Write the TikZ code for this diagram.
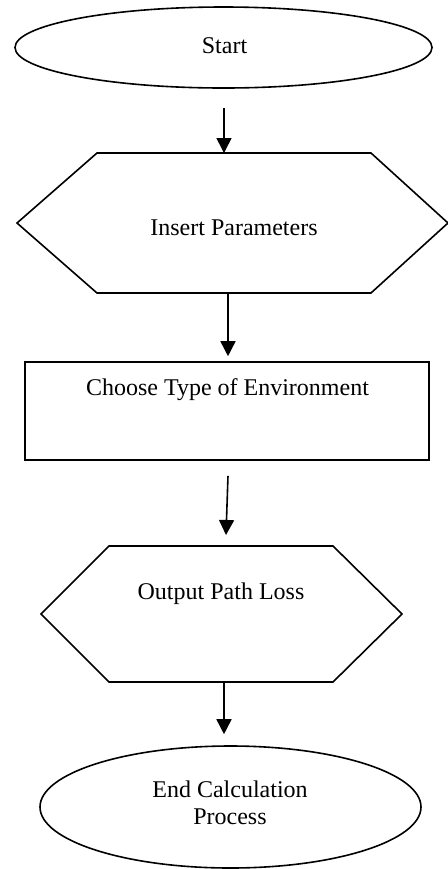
\documentclass[tikz,border=0pt]{standalone}
\usepackage{fontspec}
\setmainfont{Liberation Serif}
\usetikzlibrary{shapes.geometric,arrows.meta,calc}
\begin{document}
\begin{tikzpicture}[x=0.5pt,y=-0.5pt,
  shapeline/.style={draw,line width=0.8pt,line join=miter},
  term/.style={ellipse,shapeline,inner sep=0pt},
  hexarea/.style={rectangle,inner sep=0pt,outer sep=0pt},
  procbox/.style={rectangle,shapeline,inner sep=0pt},
  lbl/.style={font=\fontsize{12}{13.5}\selectfont,inner sep=0pt,anchor=base},
  arr/.style={line width=0.8pt,-{Triangle[width=7.5pt,length=7.5pt]}}]
\useasboundingbox (0,0) rectangle (448,869);
% shapes
\node[term,minimum width=208.5pt,minimum height=40.5pt] (start) at (223.5,47.5) {};
\node[hexarea,minimum width=215.5pt,minimum height=70pt] (ins) at (232.5,223) {};
\draw[shapeline] (ins.west) -- ($(ins.north west)+(80,0)$) -- ($(ins.north east)+(-77,0)$)
  -- (ins.east) -- ($(ins.south east)+(-77,0)$) -- ($(ins.south west)+(80,0)$) -- cycle;
\node[procbox,minimum width=202pt,minimum height=49pt] (rect) at (227,411) {};
\node[hexarea,minimum width=180.5pt,minimum height=68pt] (out) at (221.5,614) {};
\draw[shapeline] (out.west) -- ($(out.north west)+(68,0)$) -- ($(out.north east)+(-69,0)$)
  -- (out.east) -- ($(out.south east)+(-69,0)$) -- ($(out.south west)+(68,0)$) -- cycle;
\node[term,minimum width=190.5pt,minimum height=61pt] (endn) at (230.5,807) {};
% texts
\node[lbl] (t1) at (224.5,53) {Start};
\node[lbl] (t2) at (234,235) {Insert Parameters};
\node[lbl] (t3) at (227.5,395) {Choose Type of Environment};
\node[lbl] (t4) at (221,599) {Output Path Loss};
\node[lbl,anchor=center,align=center] (t5) at (230,803) {End Calculation\\Process};
% connectors
\draw[arr] ($(start.south)+(0.5,19)$) -- ($(start.south |- ins.north)+(0.5,0)$);
\draw[arr] ($(ins.south -| rect.north)+(1,0)$) -- ($(rect.north)+(1,-5)$);
\draw[arr] ($(rect.south)+(1,15)$) -- ($(out.north)+(4.5,-11)$);
\draw[arr] ($(out.south)+(2.5,0)$) -- ($(out.south |- endn.north)+(2.5,-11)$);
\end{tikzpicture}
\end{document}
